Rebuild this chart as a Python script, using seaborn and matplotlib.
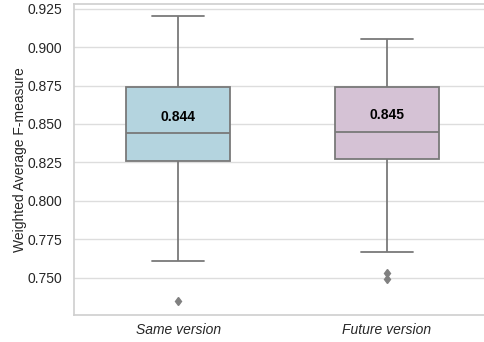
import numpy as np
import pandas as pd
import seaborn as sns
import matplotlib
matplotlib.use("Agg")
import matplotlib.pyplot as plt

# Per-project weighted average F-measure for the two evaluation settings
categories = ["Same version", "Future version"]
same_version = [0.735, 0.761, 0.812, 0.826, 0.832, 0.839, 0.844,
                0.851, 0.862, 0.874, 0.889, 0.903, 0.920]
future_version = [0.749, 0.753, 0.767, 0.827, 0.833, 0.840, 0.845,
                  0.852, 0.861, 0.874, 0.884, 0.896, 0.905]
box_colors = ["lightblue", "thistle"]

df = pd.DataFrame({
    "setting": [categories[0]] * len(same_version) + [categories[1]] * len(future_version),
    "fmeasure": same_version + future_version,
})

sns.set_theme(style="whitegrid")
plt.rcParams["font.family"] = ["Liberation Sans", "DejaVu Sans"]

fig = plt.figure(figsize=(4.84, 3.42), dpi=100)
ax = fig.add_axes([74 / 484, 27 / 342, 417 / 484, 311 / 342])

sns.boxplot(data=df, x="setting", y="fmeasure", hue="setting", order=categories,
            palette=box_colors, width=0.5, linewidth=1.3, legend=False, ax=ax,
            flierprops=dict(marker="d", markersize=4.5, markerfacecolor="#808080",
                            markeredgecolor="#808080"))

medians = df.groupby("setting")["fmeasure"].median()
for i, cat in enumerate(categories):
    m = medians[cat]
    ax.text(i, m + 0.0062, f"{m:.3f}", ha="center", va="bottom",
            fontsize=10, fontweight="bold", color="black")

ax.set_xlim(-0.5, 1.5)
ax.set_ylim(0.7258, 0.928)
ax.set_yticks([0.750, 0.775, 0.800, 0.825, 0.850, 0.875, 0.900, 0.925])
ax.yaxis.set_major_formatter(matplotlib.ticker.FormatStrFormatter("%.3f"))
ax.set_xlabel("")
ax.set_ylabel("Weighted Average F-measure", fontsize=10, color="#262626", labelpad=0.5)
ax.tick_params(axis="y", labelsize=10, colors="#262626", pad=2.5)
ax.tick_params(axis="x", labelsize=10, colors="#262626", pad=0)
for lbl in ax.get_xticklabels():
    lbl.set_fontstyle("italic")
ax.grid(axis="x", visible=False)
ax.grid(axis="y", color="#dddddd", linewidth=1)
for s in ax.spines.values():
    s.set_color("#d0d0d0")

fig.savefig("out.png", dpi=100)
